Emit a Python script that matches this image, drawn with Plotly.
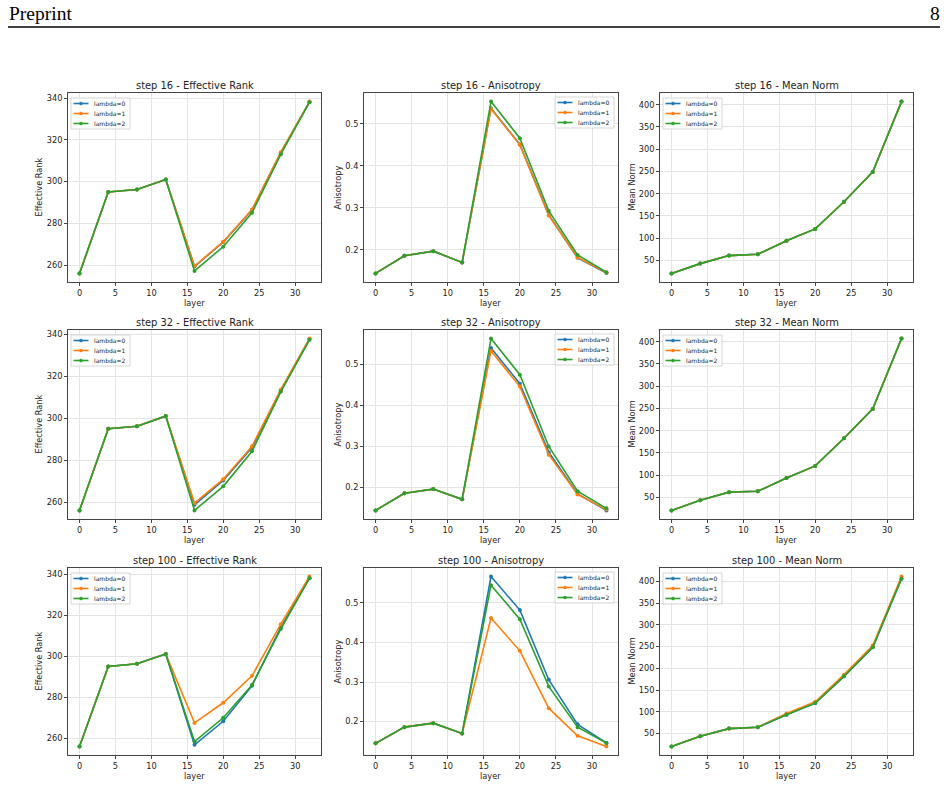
import plotly.graph_objects as go

# ---------------- data ----------------
layers = [0, 4, 8, 12, 16, 20, 24, 28, 32]
series_names = ["lambda=0", "lambda=1", "lambda=2"]
colors = ["#1f77b4", "#ff7f0e", "#2ca02c"]
steps = [16, 32, 100]
metrics = ["Effective Rank", "Anisotropy", "Mean Norm"]

# step 16
er16_l0 = [256, 295, 296.2, 301, 259.3, 271.0, 286.3, 313.8, 338.2]
er16_l1 = [256, 295, 296.2, 301, 259.5, 271.2, 286.6, 314.0, 338.3]
er16_l2 = [256, 295, 296.2, 301, 257.2, 268.8, 285.0, 313.0, 338.0]
an16_l0 = [0.144, 0.186, 0.197, 0.170, 0.537, 0.451, 0.283, 0.181, 0.145]
an16_l1 = [0.144, 0.186, 0.197, 0.170, 0.536, 0.450, 0.282, 0.182, 0.146]
an16_l2 = [0.144, 0.186, 0.197, 0.170, 0.553, 0.466, 0.293, 0.188, 0.147]
mn16_l0 = [21, 43, 61, 64, 94.5, 121, 182, 249, 407]
mn16_l1 = [21, 43, 61, 64, 94.5, 121, 182, 249, 407]
mn16_l2 = [21, 43, 61, 64, 94.5, 121, 182, 249, 407]

# step 32
er32_l0 = [256, 295, 296.2, 301, 258.7, 270.3, 286.0, 313.2, 337.8]
er32_l1 = [256, 295, 296.2, 301, 259.5, 270.9, 286.6, 313.6, 338.0]
er32_l2 = [256, 295, 296.2, 301, 256.0, 267.5, 284.2, 312.6, 337.4]
an32_l0 = [0.144, 0.186, 0.196, 0.171, 0.540, 0.453, 0.286, 0.184, 0.144]
an32_l1 = [0.144, 0.186, 0.196, 0.171, 0.533, 0.446, 0.280, 0.183, 0.146]
an32_l2 = [0.144, 0.186, 0.196, 0.171, 0.563, 0.475, 0.300, 0.191, 0.149]
mn32_l0 = [21, 44, 62, 64, 94, 121, 183, 249, 407]
mn32_l1 = [21, 44, 62, 64, 94, 121, 183, 249, 407]
mn32_l2 = [21, 44, 62, 64, 94, 121, 183, 249, 407]

# step 100
er100_l0 = [256, 295, 296.3, 301, 256.8, 268.3, 285.6, 314.0, 338.0]
er100_l1 = [256, 295, 296.3, 301, 267.5, 277.3, 290.4, 315.6, 338.8]
er100_l2 = [256, 295, 296.3, 301, 258.4, 270.0, 286.0, 313.2, 338.0]
an100_l0 = [0.145, 0.186, 0.196, 0.170, 0.567, 0.482, 0.306, 0.193, 0.146]
an100_l1 = [0.145, 0.186, 0.196, 0.170, 0.462, 0.379, 0.234, 0.164, 0.137]
an100_l2 = [0.145, 0.186, 0.196, 0.170, 0.545, 0.459, 0.289, 0.186, 0.146]
mn100_l0 = [20.3, 44, 61.4, 64.5, 93.4, 120, 181.6, 248.5, 406]
mn100_l1 = [20.3, 44, 61.4, 64.5, 96.4, 123, 185.4, 252.4, 411]
mn100_l2 = [20.3, 44, 61.4, 64.5, 93.4, 120, 181.6, 248.5, 406]

grid = [
    [[er16_l0, er16_l1, er16_l2], [an16_l0, an16_l1, an16_l2], [mn16_l0, mn16_l1, mn16_l2]],
    [[er32_l0, er32_l1, er32_l2], [an32_l0, an32_l1, an32_l2], [mn32_l0, mn32_l1, mn32_l2]],
    [[er100_l0, er100_l1, er100_l2], [an100_l0, an100_l1, an100_l2], [mn100_l0, mn100_l1, mn100_l2]],
]
ytick_step = [20, 0.1, 50]
legend_side = ["left", "right", "left"]

# ---------------- layout geometry (px) ----------------
W, H = 948, 787
col_px = [(68, 321), (364, 618), (660, 913)]
row_px = [(93, 282), (330, 519), (568, 755)]
ylabel_off = [30, 27, 29]


def fx(p):
    return p / W


def fy(p):
    return 1 - p / H


FONT = "DejaVu Sans"
TXT = "#222222"
fig = go.Figure()
annotations = []
shapes = []

xmin, xmax = min(layers), max(layers)
xpad = 0.05 * (xmax - xmin)

for r in range(3):
    for c in range(3):
        idx = r * 3 + c + 1
        xa = "x" if idx == 1 else f"x{idx}"
        ya = "y" if idx == 1 else f"y{idx}"
        series = grid[r][c]
        for k in range(3):
            fig.add_trace(go.Scatter(
                x=layers, y=series[k], mode="lines+markers",
                line=dict(color=colors[k], width=1.6),
                marker=dict(color=colors[k], size=4),
                name=series_names[k], showlegend=False,
                xaxis=xa, yaxis=ya,
            ))
        allv = [v for s in series for v in s]
        lo, hi = min(allv), max(allv)
        pad = 0.05 * (hi - lo)
        x0, x1 = col_px[c]
        t0, t1 = row_px[r]
        axis_common = dict(
            showline=True, linecolor="#444444", linewidth=1, mirror=True,
            ticks="outside", ticklen=3, tickwidth=0.8, tickcolor="#444444",
            showgrid=True, gridcolor="#e4e4e4", gridwidth=0.8,
            zeroline=False, automargin=False,
            tickfont=dict(family=FONT, size=8.2, color=TXT),
        )
        fig.update_layout({
            ("xaxis" if idx == 1 else f"xaxis{idx}"): dict(
                domain=[fx(x0), fx(x1)], anchor=ya,
                range=[xmin - xpad, xmax + xpad], tick0=0, dtick=5, **axis_common),
            ("yaxis" if idx == 1 else f"yaxis{idx}"): dict(
                domain=[fy(t1), fy(t0)], anchor=xa,
                range=[lo - pad, hi + pad], tick0=0, dtick=ytick_step[c], **axis_common),
        })
        # title
        annotations.append(dict(
            text=f"step {steps[r]} - {metrics[c]}", x=fx((x0 + x1) / 2), y=fy(t0 - 7.5),
            xref="paper", yref="paper", xanchor="center", yanchor="middle",
            showarrow=False, font=dict(family=FONT, size=9.9, color=TXT)))
        # x label
        annotations.append(dict(
            text="layer", x=fx((x0 + x1) / 2), y=fy(t1 + 21),
            xref="paper", yref="paper", xanchor="center", yanchor="middle",
            showarrow=False, font=dict(family=FONT, size=8.2, color=TXT)))
        # y label
        annotations.append(dict(
            text=metrics[c], x=fx(x0 - ylabel_off[c]), y=fy((t0 + t1) / 2),
            xref="paper", yref="paper", xanchor="center", yanchor="middle", textangle=-90,
            showarrow=False, font=dict(family=FONT, size=8.2, color=TXT)))
        # legend box
        bw, bh = 59, 31
        if legend_side[c] == "left":
            bx0 = x0 + 3
            by0 = t0 + 5
        else:
            bx0 = x1 - 4 - bw
            by0 = t0 + 4
        shapes.append(dict(type="rect", xref="paper", yref="paper",
                           x0=fx(bx0), x1=fx(bx0 + bw), y0=fy(by0 + bh), y1=fy(by0),
                           fillcolor="rgba(255,255,255,0.85)",
                           line=dict(color="#cccccc", width=0.8)))
        for k in range(3):
            cy = by0 + 5.5 + 10 * k
            shapes.append(dict(type="line", xref="paper", yref="paper",
                               x0=fx(bx0 + 2.5), x1=fx(bx0 + 17.5), y0=fy(cy), y1=fy(cy),
                               line=dict(color=colors[k], width=1.6)))
            shapes.append(dict(type="circle", xref="paper", yref="paper",
                               x0=fx(bx0 + 8.5), x1=fx(bx0 + 11.5), y0=fy(cy + 1.5), y1=fy(cy - 1.5),
                               fillcolor=colors[k], line=dict(color=colors[k], width=0.5)))
            annotations.append(dict(
                text=series_names[k], x=fx(bx0 + 21), y=fy(cy),
                xref="paper", yref="paper", xanchor="left", yanchor="middle",
                showarrow=False, font=dict(family=FONT, size=6, color=TXT)))

# page header
annotations.append(dict(text="Preprint", x=fx(7), y=fy(14), xref="paper", yref="paper",
                        xanchor="left", yanchor="middle", showarrow=False,
                        font=dict(family="Liberation Serif", size=19.5, color="black")))
annotations.append(dict(text="8", x=fx(942), y=fy(14), xref="paper", yref="paper",
                        xanchor="right", yanchor="middle", showarrow=False,
                        font=dict(family="Liberation Serif", size=19.5, color="black")))
shapes.append(dict(type="line", xref="paper", yref="paper",
                   x0=fx(8), x1=fx(940), y0=fy(27), y1=fy(27),
                   line=dict(color="black", width=1.3)))

fig.update_layout(
    width=W, height=H, margin=dict(l=0, r=0, t=0, b=0),
    paper_bgcolor="white", plot_bgcolor="white",
    showlegend=False, annotations=annotations, shapes=shapes,
)
fig.write_html("out.html")
